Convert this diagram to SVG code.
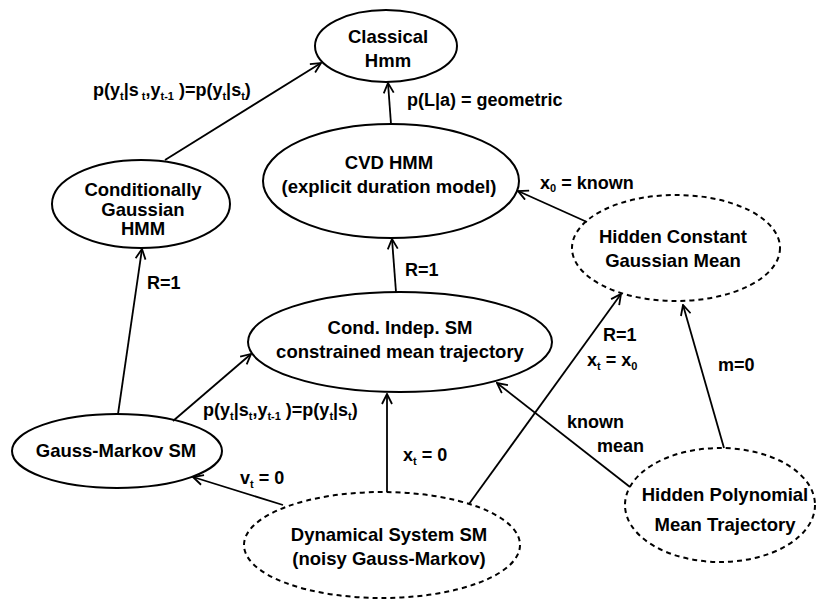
<svg xmlns="http://www.w3.org/2000/svg" width="817" height="602" viewBox="0 0 817 602">
<style>
.n{fill:none;stroke:#000;stroke-width:2}
.d{fill:none;stroke:#000;stroke-width:2;stroke-dasharray:5,4}
.e{fill:none;stroke:#000;stroke-width:1.8;marker-end:url(#ah)}
text{font-family:"Liberation Sans",Arial,sans-serif;font-weight:bold;font-size:18px;fill:#000}
.c{text-anchor:middle;font-size:18.5px}
.s{font-size:11px}
</style>
<defs>
<marker id="ah" viewBox="0 0 12 12" refX="11" refY="6" markerWidth="12" markerHeight="12" markerUnits="userSpaceOnUse" orient="auto">
<path d="M1,1 L11,6 L1,11" fill="none" stroke="#000" stroke-width="1.8"/>
</marker>
</defs>
<rect width="817" height="602" fill="#fff"/>
<g id="connectors">
<line class="e" x1="165" y1="160" x2="321" y2="63"/>
<line class="e" x1="391" y1="124" x2="388" y2="83"/>
<line class="e" x1="587" y1="222" x2="518" y2="191"/>
<line class="e" x1="396" y1="292" x2="392" y2="239"/>
<line class="e" x1="118" y1="414" x2="142" y2="249"/>
<line class="e" x1="173" y1="421" x2="251" y2="354"/>
<line class="e" x1="283" y1="505" x2="193" y2="477"/>
<line class="e" x1="387" y1="492" x2="387" y2="394"/>
<line class="e" x1="469" y1="504" x2="621" y2="294"/>
<line class="e" x1="630" y1="487" x2="497" y2="383"/>
<line class="e" x1="724" y1="448" x2="683" y2="305"/>
<text x="93" y="96">p(y<tspan class="s" dy="4">t</tspan><tspan dy="-4">|s</tspan><tspan class="s" dy="4"> t</tspan><tspan dy="-4">,y</tspan><tspan class="s" dy="4">t-1</tspan><tspan dy="-4"> )=p(y</tspan><tspan class="s" dy="4">t</tspan><tspan dy="-4">|s</tspan><tspan class="s" dy="4">t</tspan><tspan dy="-4">)</tspan></text>
<text x="407" y="106">p(L|a) = geometric</text>
<text x="540" y="189">x<tspan class="s" dy="3">0</tspan><tspan dy="-3"> = known</tspan></text>
<text x="405" y="276">R=1</text>
<text x="147" y="289">R=1</text>
<text x="603" y="341">R=1</text>
<text x="587" y="366">x<tspan class="s" dy="4">t</tspan><tspan dy="-4"> = x</tspan><tspan class="s" dy="4">0</tspan></text>
<text x="718" y="371">m=0</text>
<text x="203" y="416">p(y<tspan class="s" dy="4">t</tspan><tspan dy="-4">|s</tspan><tspan class="s" dy="4">t</tspan><tspan dy="-4">,y</tspan><tspan class="s" dy="4">t-1</tspan><tspan dy="-4"> )=p(y</tspan><tspan class="s" dy="4">t</tspan><tspan dy="-4">|s</tspan><tspan class="s" dy="4">t</tspan><tspan dy="-4">)</tspan></text>
<text x="567" y="428">known</text>
<text x="597" y="452">mean</text>
<text x="403" y="461">x<tspan class="s" dy="4">t</tspan><tspan dy="-4"> = 0</tspan></text>
<text x="240" y="484">v<tspan class="s" dy="4">t</tspan><tspan dy="-4"> = 0</tspan></text>
</g>
<g id="classical">
<ellipse class="n" cx="386" cy="46" rx="71" ry="36"/>
<text class="c" x="388" y="43">Classical</text>
<text class="c" x="388" y="67">Hmm</text>
</g>
<g id="cvd">
<ellipse class="n" cx="391" cy="181" rx="128" ry="57"/>
<text class="c" x="389" y="169">CVD HMM</text>
<text class="c" x="389" y="193">(explicit duration model)</text>
</g>
<g id="condgauss">
<ellipse class="n" cx="141" cy="204" rx="89" ry="44"/>
<text class="c" x="143" y="196">Conditionally</text>
<text class="c" x="143" y="216">Gaussian</text>
<text class="c" x="143" y="235">HMM</text>
</g>
<g id="condindep">
<ellipse class="n" cx="400" cy="342" rx="152" ry="50"/>
<text class="c" x="400" y="334">Cond. Indep. SM</text>
<text class="c" x="400" y="358">constrained mean trajectory</text>
</g>
<g id="gaussmarkov">
<ellipse class="n" cx="117" cy="451" rx="105" ry="37"/>
<text class="c" x="116" y="457">Gauss-Markov SM</text>
</g>
<g id="hiddenconst">
<ellipse class="d" cx="676" cy="248" rx="104" ry="53"/>
<text class="c" x="673" y="243">Hidden Constant</text>
<text class="c" x="673" y="267">Gaussian Mean</text>
</g>
<g id="dynamical">
<ellipse class="d" cx="382" cy="545" rx="138" ry="53"/>
<text class="c" x="389" y="541">Dynamical System SM</text>
<text class="c" x="389" y="565">(noisy Gauss-Markov)</text>
</g>
<g id="hiddenpoly">
<ellipse class="d" cx="720" cy="505" rx="95" ry="57"/>
<text class="c" x="725" y="501">Hidden Polynomial</text>
<text class="c" x="725" y="531">Mean Trajectory</text>
</g>
</svg>
